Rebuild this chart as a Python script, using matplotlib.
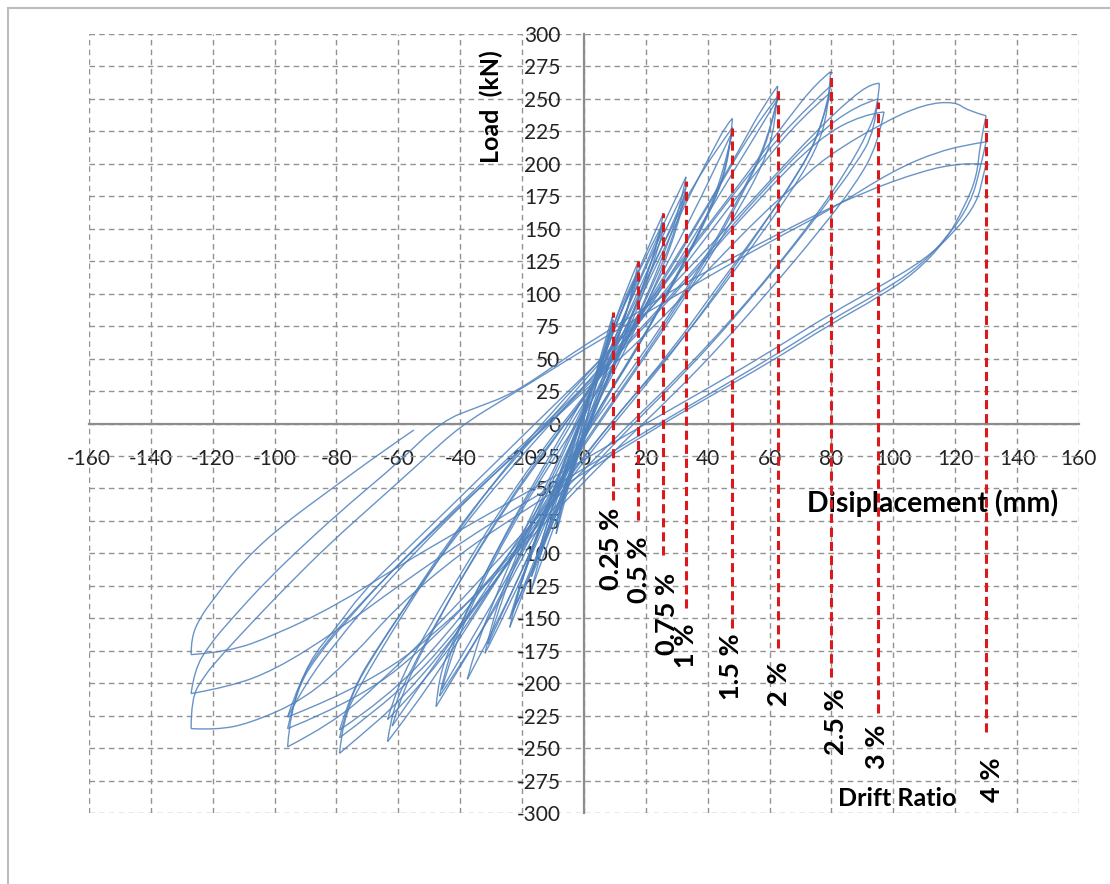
import matplotlib
matplotlib.use('Agg')
import matplotlib.pyplot as plt
from matplotlib.patches import Rectangle, PathPatch
from matplotlib.path import Path

plt.rcParams['font.family'] = ['Lato', 'DejaVu Sans']
plt.rcParams['axes.unicode_minus'] = False

# drift ratio markers: displacement (mm) and the load span (kN) of each dashed line
drift_labels = ['0.25 %', '0.5 %', '0.75 %', '1 %', '1.5 %', '2 %', '2.5 %', '3 %', '4 %']
drift_disp = [9.5, 17.6, 25.7, 33.1, 48.0, 62.6, 79.7, 94.9, 130.0]
drift_top = [85.6, 125, 162, 187, 228, 257.5, 270.6, 248, 237]
drift_bottom = [-59, -74.6, -101.5, -142, -157.7, -173, -195.4, -223, -237.6]

# hysteresis loops per drift level, (displacement mm, load kN)
loops_025 = [
    [(-9, -85), (-7, -62), (-4, -32), (0, 5), (4, 40), (7, 65), (9.5, 85), (8, 66), (5, 38), (1, 5),
     (-3, -30), (-6, -58), (-9, -85)],
    [(-9, -78), (-6, -50), (-2, -15), (2, 22), (6, 55), (9.5, 80), (7, 58), (3, 22), (-1, -12), (-5, -45),
     (-9, -78)],
]
loops_05 = [
    [(-17, -128), (-14, -100), (-9, -60), (-3, -15), (3, 30), (9, 72), (14, 105), (17.6, 125), (16, 105),
     (12, 72), (6, 30), (0, -12), (-6, -55), (-12, -95), (-17, -128)],
    [(-17, -118), (-13, -85), (-7, -40), (0, 10), (6, 52), (12, 92), (17.6, 118), (15, 95), (10, 58), (4, 18),
     (-3, -30), (-10, -78), (-17, -118)],
    [(-16.5, -112), (-12, -78), (-6, -35), (0, 8), (6, 48), (12, 88), (17.6, 113), (14, 88), (8, 48), (2, 8),
     (-5, -40), (-11, -78), (-16.5, -112)],
]
loops_075 = [
    [(-24, -157), (-22, -135), (-17, -100), (-10, -55), (-3, -10), (4, 35), (11, 80), (18, 120), (23, 148),
     (25.7, 162), (24, 140), (19, 105), (12, 60), (5, 20), (-3, -30), (-11, -80), (-18, -120), (-24, -157)],
    [(-24, -150), (-20, -118), (-13, -70), (-5, -20), (3, 30), (10, 75), (17, 115), (25.7, 155), (22, 125),
     (15, 80), (7, 30), (-2, -25), (-12, -90), (-24, -150)],
    [(-23, -145), (-19, -112), (-12, -65), (-4, -15), (4, 30), (11, 72), (18, 110), (25.7, 150), (22, 118),
     (15, 75), (6, 25), (-4, -35), (-14, -95), (-23, -145)],
]
loops_1 = [
    [(-32, -177), (-30, -155), (-25, -120), (-17, -75), (-8, -30), (0, 12), (8, 55), (16, 100), (24, 145),
     (30, 175), (33, 190), (31, 165), (25, 125), (16, 75), (7, 30), (-3, -25), (-14, -85), (-24, -140),
     (-32, -177)],
    [(-37.7, -197), (-35, -172), (-28, -130), (-19, -80), (-9, -32), (0, 15), (10, 62), (20, 115), (28, 158),
     (33, 182), (30, 150), (22, 105), (12, 55), (0, 0), (-12, -70), (-25, -140), (-37.7, -197)],
    [(-31, -170), (-27, -138), (-20, -95), (-11, -48), (-2, -5), (8, 45), (18, 98), (27, 145), (33, 178),
     (30, 148), (22, 100), (12, 50), (2, 5), (-10, -60), (-21, -118), (-31, -170)],
]
loops_15 = [
    [(-47.8, -218), (-47, -195), (-42, -165), (-34, -125), (-24, -80), (-14, -40), (-4, 0), (6, 40), (16, 85),
     (26, 135), (35, 180), (42, 212), (46, 230), (48, 235), (47, 205), (43, 175), (35, 135), (25, 90),
     (14, 45), (3, 5), (-8, -45), (-20, -100), (-33, -160), (-42, -195), (-47.8, -218)],
    [(-46.7, -210), (-44, -180), (-37, -140), (-27, -92), (-16, -45), (-5, 0), (6, 45), (17, 95), (28, 150),
     (38, 195), (48, 228), (46, 195), (40, 160), (30, 115), (18, 60), (6, 15), (-6, -40), (-20, -105),
     (-34, -165), (-46.7, -210)],
    [(-46, -205), (-42, -172), (-34, -128), (-24, -82), (-12, -35), (0, 8), (12, 55), (24, 110), (36, 165),
     (44, 205), (48, 225), (45, 192), (38, 150), (27, 100), (15, 50), (3, 5), (-10, -55), (-24, -115),
     (-36, -165), (-46, -205)],
]
loops_2 = [
    [(-63.5, -245), (-62, -220), (-56, -190), (-47, -150), (-36, -105), (-24, -60), (-12, -20), (0, 20),
     (12, 60), (25, 110), (38, 160), (50, 210), (58, 245), (62.6, 260), (62, 230), (58, 200), (50, 165),
     (40, 125), (28, 80), (15, 35), (2, -10), (-12, -60), (-28, -120), (-44, -180), (-56, -222),
     (-63.5, -245)],
    [(-63.5, -228), (-60, -200), (-52, -165), (-41, -120), (-28, -70), (-15, -25), (-2, 15), (12, 58),
     (27, 115), (42, 175), (54, 225), (62.6, 252), (60, 220), (53, 185), (43, 140), (30, 90), (16, 40),
     (2, -8), (-14, -65), (-32, -135), (-50, -195), (-63.5, -228)],
    [(-62, -233), (-58, -202), (-49, -160), (-38, -112), (-25, -62), (-12, -18), (2, 25), (16, 70),
     (32, 130), (46, 185), (57, 228), (62.6, 250), (59, 215), (51, 178), (40, 130), (26, 78), (12, 30),
     (-3, -20), (-20, -85), (-40, -158), (-54, -205), (-62, -233)],
]
loops_25 = [
    [(-79, -254), (-78, -228), (-72, -200), (-62, -160), (-50, -115), (-37, -70), (-24, -30), (-10, 10),
     (5, 48), (20, 90), (36, 140), (52, 190), (66, 235), (75, 262), (79.7, 271), (79, 240), (75, 210),
     (66, 175), (54, 135), (40, 90), (25, 45), (10, 5), (-6, -45), (-24, -105), (-42, -165), (-60, -215),
     (-72, -240), (-79, -254)],
    [(-79, -242), (-76, -212), (-68, -178), (-56, -135), (-43, -88), (-29, -45), (-14, -5), (2, 38),
     (18, 82), (35, 135), (52, 188), (67, 232), (79.7, 260), (77, 228), (70, 195), (60, 160), (47, 115),
     (32, 65), (16, 18), (0, -28), (-18, -88), (-38, -150), (-58, -205), (-79, -242)],
    [(-79, -236), (-75, -205), (-66, -170), (-54, -128), (-40, -82), (-25, -38), (-10, 2), (6, 45),
     (23, 92), (40, 145), (57, 198), (70, 235), (79.7, 255), (76, 222), (68, 188), (57, 150), (43, 105),
     (28, 55), (12, 10), (-5, -40), (-24, -100), (-45, -165), (-64, -212), (-79, -236)],
]
loops_3 = [
    [(-95.8, -249), (-95, -222), (-89, -183), (-80, -157), (-72, -131), (-63, -110), (-50, -80), (-35, -45),
     (-20, -10), (-5, 25), (10, 60), (28, 105), (46, 150), (62, 192), (75, 225), (86, 250), (93, 262),
     (95.5, 262), (95, 245), (92, 225), (85, 195), (75, 160), (62, 120), (47, 78), (30, 35), (14, -2),
     (-4, -45), (-24, -95), (-45, -150), (-66, -200), (-82, -232), (-95.8, -249)],
    [(-95.8, -235), (-93, -205), (-86, -178), (-76, -150), (-64, -118), (-50, -85), (-34, -48), (-18, -12),
     (0, 28), (18, 72), (38, 125), (58, 180), (75, 222), (88, 245), (95, 250), (94, 225), (88, 200),
     (78, 168), (65, 128), (50, 85), (33, 40), (16, 0), (-3, -48), (-25, -105), (-48, -165), (-72, -212),
     (-95.8, -235)],
    [(-95.8, -226), (-92, -198), (-84, -170), (-72, -138), (-58, -104), (-42, -68), (-26, -32), (-8, 8),
     (12, 55), (34, 112), (56, 172), (76, 220), (90, 238), (97, 240), (95, 215), (88, 185), (76, 148),
     (62, 108), (45, 62), (28, 20), (8, -25), (-14, -80), (-40, -145), (-68, -200), (-95.8, -226)],
]
loops_4 = [
    [(-95.8, -226), (-90, -200), (-80, -168), (-66, -128), (-50, -88), (-34, -50), (-18, -15), (0, 25),
     (20, 68), (40, 118), (57, 160), (68, 183), (78, 205), (96, 231), (110, 246), (120, 248), (124, 241),
     (130, 237), (128, 215), (127, 190), (123, 167), (117, 141), (107, 116), (95, 97), (80, 77), (60, 47),
     (40, 20), (20, -8), (0, -38), (-20, -68), (-40, -100), (-60, -140), (-75, -180), (-90, -212),
     (-108, -231), (-119, -236), (-127, -235)],
    [(-127, -235), (-127, -212), (-123, -195), (-117, -178), (-108, -155), (-96, -125), (-82, -92),
     (-66, -58), (-52, -28), (-40, -2), (-25, 20), (-10, 42), (0, 57), (20, 85), (40, 113), (60, 140),
     (80, 165), (100, 195), (115, 210), (127, 216), (130, 217), (128, 195), (125, 170), (118, 145),
     (108, 120), (95, 100), (80, 80), (60, 50), (40, 22), (20, -6), (0, -35), (-20, -62), (-40, -92),
     (-60, -125), (-80, -160), (-100, -190), (-115, -203), (-127, -208)],
    [(-127, -208), (-126, -190), (-121, -170), (-113, -148), (-103, -122), (-90, -92), (-75, -60),
     (-60, -30), (-46, 2), (-34, 13), (-23, 23), (-8, 47), (0, 60), (15, 82), (30, 105), (50, 130),
     (70, 155), (90, 178), (110, 195), (121, 200), (127, 200), (130, 200), (129, 190), (127, 170),
     (120, 148), (110, 126), (96, 106), (80, 85), (60, 55), (40, 27), (20, 0), (0, -28), (-20, -55),
     (-40, -82), (-60, -110), (-80, -140), (-100, -163), (-115, -176), (-127, -178)],
]
# last reloading branch where the test stopped
loops_end = [
    [(-127, -178), (-127, -165), (-124, -149), (-120, -136), (-111, -108), (-98.5, -80), (-82, -51),
     (-66, -23), (-55, -5)],
]

# where each drift ratio label sits (mm, kN), text hangs below this point
label_x = [8.8, 17.9, 27.0, 33.1, 47.6, 63.2, 81.6, 94.8, 132.0]
label_y = [-65, -87, -115, -154, -162, -183, -204, -232, -257]


def smooth_branch(pts):
    """Path through the branch end points, corners rounded with quadratic Bezier segments."""
    verts = [pts[0]]
    codes = [Path.MOVETO]
    if len(pts) == 2:
        verts.append(pts[1])
        codes.append(Path.LINETO)
        return Path(verts, codes)
    for i in range(1, len(pts) - 1):
        if i == len(pts) - 2:
            end = pts[i + 1]
        else:
            end = ((pts[i][0] + pts[i + 1][0]) / 2, (pts[i][1] + pts[i + 1][1]) / 2)
        verts += [pts[i], end]
        codes += [Path.CURVE3, Path.CURVE3]
    return Path(verts, codes)


fig = plt.figure(figsize=(11.1, 8.84), dpi=100)
ax = fig.add_axes([0.0802, 0.0803, 0.8918, 0.8812])

ax.set_xlim(-160, 160)
ax.set_ylim(-300, 300)
ax.set_xticks(range(-160, 161, 20))
ax.set_yticks(range(-300, 301, 25))

ax.grid(True, color='#929292', linestyle=(0, (4, 3)), linewidth=1.0)
ax.set_axisbelow(True)
for gl in ax.get_xgridlines() + ax.get_ygridlines():
    gl.set_clip_on(False)

ax.spines['left'].set_position(('data', 0))
ax.spines['bottom'].set_position(('data', 0))
ax.spines['top'].set_visible(False)
ax.spines['right'].set_visible(False)
for side in ['left', 'bottom']:
    ax.spines[side].set_color('#8c8c8c')
    ax.spines[side].set_linewidth(1.6)
ax.tick_params(axis='both', length=0, labelsize=15, colors='#222222')
ax.tick_params(axis='x', pad=18)
ax.tick_params(axis='y', pad=17)

# each loop is split at its positive peak so the tips stay sharp
for level in [loops_025, loops_05, loops_075, loops_1, loops_15, loops_2, loops_25, loops_3, loops_4,
              loops_end]:
    for loop in level:
        k = max(range(len(loop)), key=lambda i: loop[i][0])
        for branch in [loop[:k + 1], loop[k:]]:
            if len(branch) < 2:
                continue
            ax.add_patch(PathPatch(smooth_branch(branch), facecolor='none', edgecolor='#4f81bd',
                                   linewidth=1.0, alpha=0.85, zorder=3))

for x, y0, y1 in zip(drift_disp, drift_bottom, drift_top):
    ax.plot([x, x], [y0, y1], color='#d9191c', linestyle=(0, (3, 1.6)), linewidth=2.2, zorder=4)

for txt, x, y in zip(drift_labels, label_x, label_y):
    ax.text(x, y, txt, rotation=90, ha='center', va='top', fontsize=19.5, fontweight='bold', zorder=5)

ax.text(-30.1, 244, 'Load  (kN)', rotation=90, ha='center', va='center', fontsize=18, fontweight='bold')
ax.text(112.7, -61.4, 'Disiplacement (mm)', ha='center', va='center', fontsize=20.5, fontweight='bold')
ax.text(101.3, -288.7, 'Drift Ratio', ha='center', va='center', fontsize=18, fontweight='bold')

# chart area frame
fig.patches.append(Rectangle((8 / 1110, -0.05), 1.2, 1.05 - 8 / 884, transform=fig.transFigure,
                             fill=False, edgecolor='#bdbdbd', linewidth=1.5))

fig.savefig('out.png', dpi=100)
